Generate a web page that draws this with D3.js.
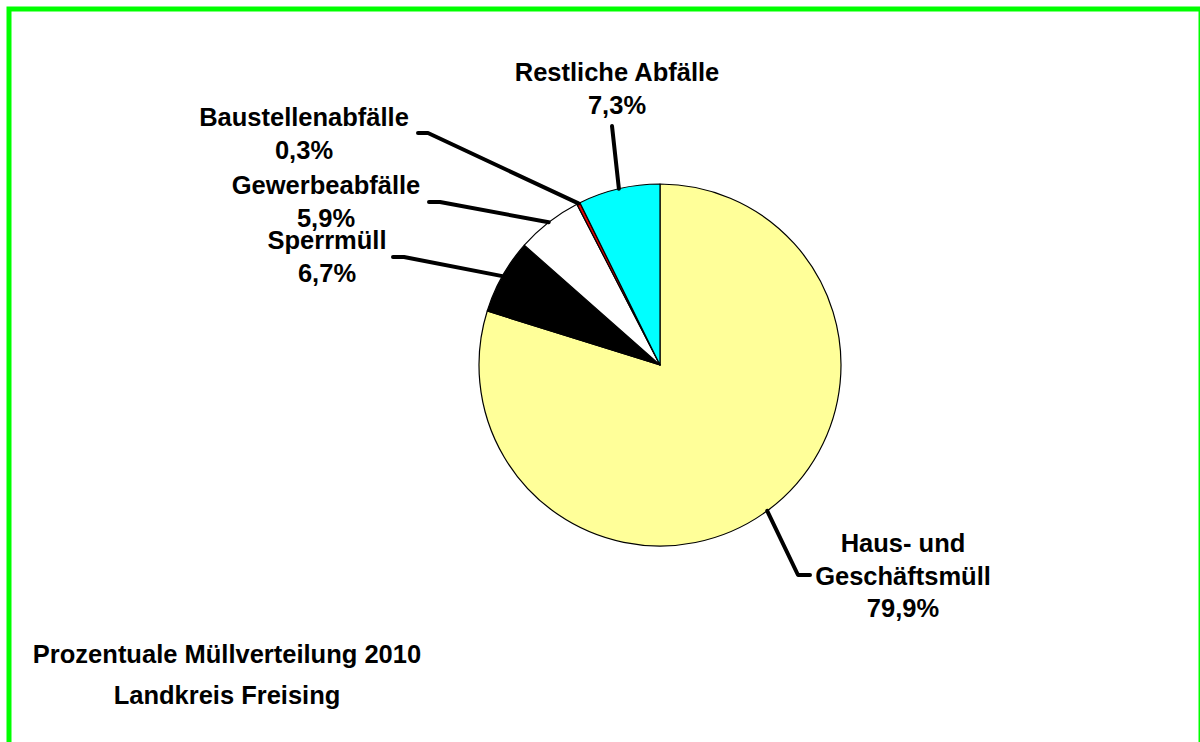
<!DOCTYPE html>
<html>
<head>
<meta charset="utf-8">
<script src="https://cdn.jsdelivr.net/npm/d3@7"></script>
<style>
  html, body { margin: 0; padding: 0; background: #ffffff; }
  svg { display: block; }
  text { font-family: "Liberation Sans", Arial, sans-serif; font-weight: bold; fill: #000; }
</style>
</head>
<body>
<svg id="chart" width="1200" height="742"></svg>
<script>
// ---- data ----
const categories = ["Haus- und Geschäftsmüll", "Sperrmüll", "Gewerbeabfälle", "Baustellenabfälle", "Restliche Abfälle"];
const labelLines = [["Haus- und", "Geschäftsmüll"], ["Sperrmüll"], ["Gewerbeabfälle"], ["Baustellenabfälle"], ["Restliche Abfälle"]];
const values = [79.9, 6.7, 5.9, 0.3, 7.3];
const valueLabels = ["79,9%", "6,7%", "5,9%", "0,3%", "7,3%"];
const titleLines = ["Prozentuale Müllverteilung 2010", "Landkreis Freising"];

// ---- layout / style ----
const colors = ["#FFFF99", "#000000", "#FFFFFF", "#E00000", "#00FFFF"];
const cx = 660, cy = 365, radius = 181;
// label anchor (center x, first baseline y) and leader elbow points
const labelLayout = [
  { x: 903, y: 552, leader: [[798, 575], [810, 575]] },
  { x: 327, y: 249, leader: [[404, 257], [393, 257]] },
  { x: 326, y: 194, leader: [[440, 202], [429, 202]] },
  { x: 304, y: 126, leader: [[428, 133], [418, 133]] },
  { x: 617, y: 81,  leader: [[612, 126]] }
];
const lineH = 32.5;

const svg = d3.select("#chart");

// border
svg.append("rect")
  .attr("x", 9).attr("y", 9)
  .attr("width", 1192).attr("height", 800)
  .attr("fill", "none")
  .attr("stroke", "#00FF00")
  .attr("stroke-width", 5);

const pie = d3.pie().sort(null).value(d => d).startAngle(0).endAngle(2 * Math.PI);
const arcs = pie(values);
const arc = d3.arc().innerRadius(0).outerRadius(radius);
const edgeArc = d3.arc().innerRadius(radius).outerRadius(radius);

const g = svg.append("g").attr("transform", `translate(${cx},${cy})`);
g.selectAll("path.slice")
  .data(arcs)
  .join("path")
  .attr("class", "slice")
  .attr("d", arc)
  .attr("fill", (d, i) => colors[i])
  .attr("stroke", "#000")
  .attr("stroke-width", 1.2)
  .attr("stroke-linejoin", "round");

// leader lines
const line = d3.line();
arcs.forEach((a, i) => {
  const c = edgeArc.centroid(a);
  const pts = [[cx + c[0], cy + c[1]]].concat(labelLayout[i].leader);
  svg.append("path")
    .attr("d", line(pts))
    .attr("fill", "none")
    .attr("stroke", "#000")
    .attr("stroke-width", 4)
    .attr("stroke-linecap", "round")
    .attr("stroke-linejoin", "round");
});

// labels
arcs.forEach((a, i) => {
  const L = labelLayout[i];
  const lines = labelLines[i].concat([valueLabels[i]]);
  const t = svg.append("text")
    .attr("text-anchor", "middle")
    .style("font-size", "25.5px");
  lines.forEach((s, k) => {
    t.append("tspan").attr("x", L.x).attr("y", L.y + k * lineH).text(s);
  });
});

// title
const tt = svg.append("text").attr("text-anchor", "middle").style("font-size", "25.5px");
titleLines.forEach((s, k) => {
  tt.append("tspan").attr("x", 227).attr("y", 663 + k * 41).text(s);
});
</script>
</body>
</html>
